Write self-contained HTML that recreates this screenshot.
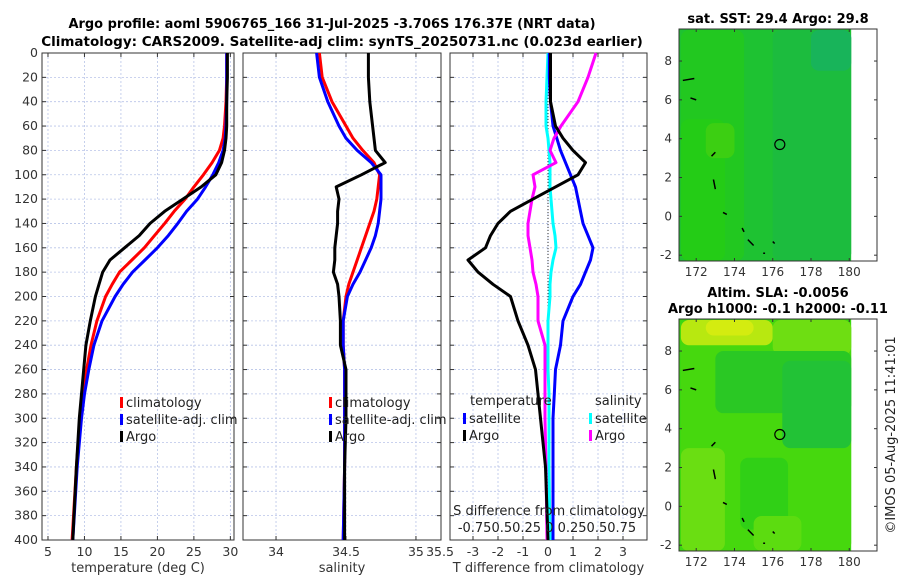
<!DOCTYPE html>
<html><head><meta charset="utf-8"><style>
body{margin:0;background:#fff;width:900px;height:580px;overflow:hidden;font-family:"Liberation Sans","DejaVu Sans",sans-serif}
svg text{font-family:"DejaVu Sans","Liberation Sans",sans-serif}
</style></head><body>
<svg id="chart" width="900" height="580" xmlns="http://www.w3.org/2000/svg">
<text x="332" y="28" text-anchor="middle" font-size="13" font-weight="bold" textLength="527" lengthAdjust="spacingAndGlyphs">Argo profile: aoml 5906765_166 31-Jul-2025 -3.706S 176.37E (NRT data)</text>
<text x="342" y="46" text-anchor="middle" font-size="13.5" font-weight="bold">Climatology: CARS2009. Satellite-adj clim: synTS_20250731.nc (0.023d earlier)</text>
<g id="plots"></g>
</svg>
<script>
const depths=[0,20,40,60,70,80,90,100,110,120,130,140,150,160,170,180,190,200,220,240,260,280,300,340,400];
const tempArgo=[29.6,29.6,29.5,29.5,29.4,29.2,28.8,28.0,26.0,23.5,21.0,19.0,17.5,15.5,13.5,12.5,12.0,11.5,10.8,10.2,9.9,9.6,9.3,8.9,8.4];
const tempClim=[29.5,29.5,29.4,29.2,29.0,28.5,27.5,26.3,25.0,23.8,22.3,21.0,19.6,18.2,16.5,14.8,13.8,12.9,11.7,10.9,10.3,9.8,9.4,8.9,8.3];
const tempSat=[29.5,29.5,29.5,29.4,29.3,29.0,28.4,27.6,26.6,25.5,24.0,22.8,21.5,20.0,18.3,16.6,15.3,14.2,12.4,11.3,10.6,10.0,9.6,9.0,8.4];
const salArgo=[34.66,34.66,34.67,34.69,34.70,34.71,34.78,34.61,34.43,34.45,34.44,34.44,34.43,34.42,34.42,34.41,34.44,34.45,34.46,34.46,34.50,34.50,34.50,34.49,34.49];
const salClim=[34.31,34.33,34.40,34.50,34.55,34.62,34.70,34.74,34.73,34.72,34.70,34.67,34.64,34.61,34.58,34.55,34.52,34.50,34.48,34.48,34.49,34.49,34.49,34.49,34.48];
const salSat=[34.29,34.31,34.37,34.45,34.50,34.58,34.68,34.75,34.75,34.75,34.74,34.73,34.71,34.68,34.64,34.60,34.55,34.51,34.48,34.48,34.49,34.49,34.49,34.49,34.48];
const tdiffArgo=[0.1,0.1,0.1,0.3,0.6,1.0,1.5,1.2,0.3,-0.6,-1.5,-2.0,-2.3,-2.5,-3.2,-2.8,-2.2,-1.5,-1.2,-0.8,-0.5,-0.4,-0.3,-0.1,0.0];
const tdiffSat=[0.05,0.05,0.1,0.2,0.35,0.5,0.7,0.9,1.1,1.2,1.3,1.4,1.6,1.8,1.7,1.5,1.3,1.0,0.6,0.5,0.3,0.25,0.2,0.2,0.2];
const sdiffArgo=[0.48,0.4,0.3,0.13,0.06,0.02,0.08,-0.15,-0.13,-0.16,-0.18,-0.2,-0.2,-0.18,-0.16,-0.15,-0.12,-0.1,-0.1,-0.03,-0.03,-0.03,-0.03,-0.02,-0.01];
const sdiffSat=[0.0,-0.01,-0.02,-0.02,0.0,0.01,0.02,0.02,0.02,0.03,0.04,0.05,0.07,0.08,0.05,0.03,0.02,0.02,0.0,0.0,0.0,0.01,0.01,0.01,0.02];
const depthTicks=[0,20,40,60,80,100,120,140,160,180,200,220,240,260,280,300,320,340,360,380,400];
const tempTicks=[5,10,15,20,25,30];
const salTicks=[34,34.5,35];
const tdiffTicks=[-3,-2,-1,0,1,2,3];
const lonTicks=[172,174,176,178,180];
const latTicks=[-2,0,2,4,6,8];

const NS='http://www.w3.org/2000/svg';
const root=document.getElementById('plots');
function mk(tag,attrs,parent){const e=document.createElementNS(NS,tag);for(const k in attrs)e.setAttribute(k,attrs[k]);(parent||root).appendChild(e);return e;}
const Y0=53,Y1=540;
const yD=d=>Y0+(d/400)*(Y1-Y0);

function panel(name,x0,x1,xmin,xmax,ticks,xlabel,showDepth){
  const g=mk('g',{});
  
  
  const sx=v=>x0+(v-xmin)/(xmax-xmin)*(x1-x0);
  depthTicks.forEach(d=>{
    const l=mk('line',{x1:x0,x2:x1,y1:yD(d),y2:yD(d),stroke:'#b8c4e8','stroke-dasharray':'2,2','stroke-width':0.8},g);
    
    mk('line',{x1:x0,x2:x0+4,y1:yD(d),y2:yD(d),stroke:'#333'},g);
    mk('line',{x1:x1-4,x2:x1,y1:yD(d),y2:yD(d),stroke:'#333'},g);
    if(showDepth){const t=mk('text',{x:x0-4,y:yD(d)+4,'text-anchor':'end','font-size':12.5,fill:'#333'},g);t.textContent=d;
      }
  });
  ticks.forEach(v=>{
    const x=sx(v);
    mk('line',{x1:x,x2:x,y1:Y0,y2:Y1,stroke:'#b8c4e8','stroke-dasharray':'2,2','stroke-width':0.8},g);
    mk('line',{x1:x,x2:x,y1:Y1-4,y2:Y1,stroke:'#333'},g);
    mk('line',{x1:x,x2:x,y1:Y0,y2:Y0+4,stroke:'#333'},g);
    const t=mk('text',{x:x,y:556,'text-anchor':'middle','font-size':12.5,fill:'#333'},g);t.textContent=v;
    
  });
  const lb=mk('text',{x:(x0+x1)/2,y:572,'text-anchor':'middle','font-size':13,fill:'#333'},g);lb.textContent=xlabel;
  
  mk('rect',{x:x0,y:Y0,width:x1-x0,height:Y1-Y0,fill:'none',stroke:'#333','stroke-width':1},g);
  return {g,sx};
}
function line(p,vals,color,name,scale){
  const pts=depths.map((d,i)=>p.sx(vals[i]*(scale||1)).toFixed(1)+','+yD(d).toFixed(1)).join(' ');
  const e=mk('polyline',{points:pts,fill:'none',stroke:color,'stroke-width':3,'stroke-linejoin':'round'},p.g);
  
}
function legend(g,x,y,items){
  items.forEach((it,i)=>{
    mk('rect',{x:x,y:y+i*17-9,width:3,height:11,fill:it[0]},g);
    const t=mk('text',{x:x+6,y:y+i*17+1,'font-size':13,fill:'#222'},g);t.textContent=it[1];
    
  });
}
const p1=panel('temperature-panel',42,234,4.18,30.5,tempTicks,'temperature (deg C)',true);
line(p1,tempClim,'#ff0000','climatology-temp-line');
line(p1,tempSat,'#0000ff','satellite-temp-line');
line(p1,tempArgo,'#000','argo-temp-line');
legend(p1.g,120,406,[['#ff0000','climatology'],['#0000ff','satellite-adj. clim'],['#000','Argo']]);
const p2=panel('salinity-panel',243,441,33.764,35.179,salTicks,'salinity',false);
line(p2,salClim,'#ff0000','climatology-sal-line');
line(p2,salSat,'#0000ff','satellite-sal-line');
line(p2,salArgo,'#000','argo-sal-line');
legend(p2.g,329,406,[['#ff0000','climatology'],['#0000ff','satellite-adj. clim'],['#000','Argo']]);
const t355=mk('text',{x:440,y:556,'text-anchor':'middle','font-size':12.5,fill:'#333'},p2.g);t355.textContent='35.5';
const p3=panel('difference-panel',450,647,-3.92,3.96,tdiffTicks,'T difference from climatology',false);
mk('line',{x1:p3.sx(0),x2:p3.sx(0),y1:Y0,y2:Y1,stroke:'#333','stroke-dasharray':'1,2'},p3.g);
line(p3,sdiffSat,'#00ffff','satellite-sdiff-line',4);
line(p3,tdiffSat,'#0000ff','satellite-tdiff-line');
line(p3,sdiffArgo,'#ff00ff','argo-sdiff-line',4);
line(p3,tdiffArgo,'#000','argo-tdiff-line');
let tt=mk('text',{x:470,y:405,'font-size':13,fill:'#222'},p3.g);tt.textContent='temperature';
tt=mk('text',{x:595,y:405,'font-size':13,fill:'#222'},p3.g);tt.textContent='salinity';
legend(p3.g,463,422,[['#0000ff','satellite'],['#000','Argo']]);
legend(p3.g,589,422,[['#00ffff','satellite'],['#ff00ff','Argo']]);
tt=mk('text',{x:549,y:515,'text-anchor':'middle','font-size':13,fill:'#222'},p3.g);tt.textContent='S difference from climatology';

tt=mk('text',{x:547,y:532,'text-anchor':'middle','font-size':13,fill:'#222'},p3.g);tt.textContent='-0.750.50.25 0 0.250.50.75';


function map(name,top,bot,title,title2,base,patches){
  const g=mk('g',{});
  
  const L=679,R=877,lonMin=171.1,lonMax=181.45;
  const sx=v=>L+(v-lonMin)/(lonMax-lonMin)*(R-L);
  const latMin=-2.3,latMax=9.65;
  const sy=v=>bot-(v-latMin)/(latMax-latMin)*(bot-top);
  mk('rect',{x:L,y:top,width:sx(180.1)-L,height:bot-top,fill:base},g);
  patches.forEach(p=>mk('rect',{x:sx(p[0]),y:sy(p[3]),width:sx(p[1])-sx(p[0]),height:sy(p[2])-sy(p[3]),fill:p[4],rx:8},g));
  [[171.3,7.0,171.9,7.1],[171.7,6.1,172,6.0],[172.8,3.1,173,3.3],[172.9,1.9,173,1.4],[173.4,0.2,173.6,0.1],[174.4,-0.6,174.5,-0.8],[174.7,-1.2,175,-1.5],[175.5,-1.9,175.6,-1.9],[176,-1.3,176.1,-1.4]].forEach(s=>mk('line',{x1:sx(s[0]),y1:sy(s[1]),x2:sx(s[2]),y2:sy(s[3]),stroke:'#000','stroke-width':1.5},g));
  const c=mk('circle',{cx:sx(176.37),cy:sy(3.7),r:5,fill:'none',stroke:'#000','stroke-width':1.2},g);
  
  mk('rect',{x:L,y:top,width:R-L,height:bot-top,fill:'none',stroke:'#333'},g);
  lonTicks.forEach(v=>{mk('line',{x1:sx(v),x2:sx(v),y1:bot,y2:bot-3,stroke:'#333'},g);mk('line',{x1:sx(v),x2:sx(v),y1:top,y2:top+3,stroke:'#333'},g);
    const t=mk('text',{x:sx(v),y:bot+15,'text-anchor':'middle','font-size':12,fill:'#333'},g);t.textContent=v;});
  latTicks.forEach(v=>{mk('line',{x1:L,x2:L+3,y1:sy(v),y2:sy(v),stroke:'#333'},g);mk('line',{x1:R-3,x2:R,y1:sy(v),y2:sy(v),stroke:'#333'},g);
    const t=mk('text',{x:L-7,y:sy(v)+4,'text-anchor':'end','font-size':12,fill:'#333'},g);t.textContent=v;});
  let t=mk('text',{x:778,y:top-(title2?22:6),'text-anchor':'middle','font-size':13,'font-weight':'bold'},g);t.textContent=title;
  
  if(title2){t=mk('text',{x:778,y:top-6,'text-anchor':'middle','font-size':13,'font-weight':'bold'},g);t.textContent=title2;}
}
map('sst-map',29,261,'sat. SST: 29.4 Argo: 29.8',null,'#1ec232',
 [[171.2,174.5,-2.3,9.6,'#22c820'],[171.2,173.5,-2.3,5,'#24cc16'],[176,180.1,-2.3,9.6,'#1cbc3e'],[178,180.1,7.5,9.6,'#18b45a'],[172.5,174,3,4.8,'#3ccf12']]);
map('sla-map',319,551,'Altim. SLA: -0.0056','Argo h1000: -0.1 h2000: -0.11','#3cd812',
 [[171.2,180.1,-2.3,9.6,'#46d80e'],[171.2,176,8.3,9.6,'#b8e810'],[172.5,175,8.8,9.6,'#d4ec10'],[176,180.1,7.8,9.6,'#6ede12'],[171.2,173.5,-2.3,3,'#6ade12'],
  [173,180.1,4.8,8,'#2ac824'],[176.5,180.1,3,7.5,'#22c236'],[174.3,176.8,-1.2,2.5,'#30d016'],[175,177.5,-2.3,-0.5,'#5cdc10']]);
const cr=mk('text',{x:895,y:435,'text-anchor':'middle','font-size':13,fill:'#222',transform:'rotate(-90 895 435)'});
cr.textContent='©IMOS 05-Aug-2025 11:41:01';

</script>
</body></html>
